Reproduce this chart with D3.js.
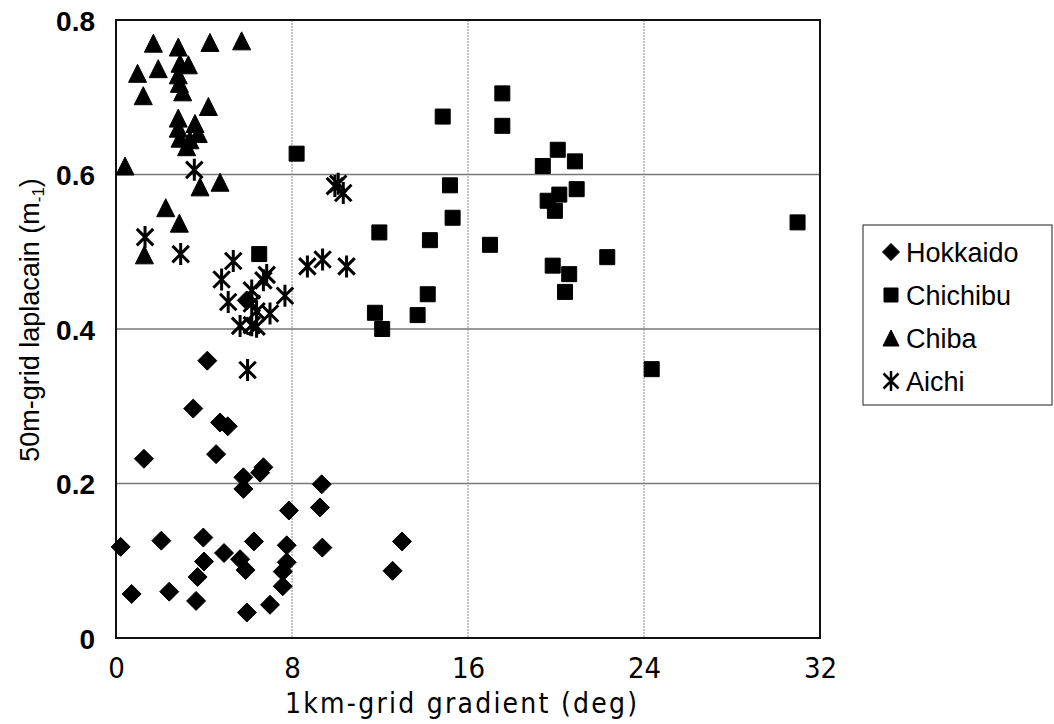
<!DOCTYPE html>
<html>
<head>
<meta charset="utf-8">
<script src="https://cdn.jsdelivr.net/npm/d3@7"></script>
<style>
  body { margin: 0; background: #fff; }
  svg { display: block; }
</style>
</head>
<body>
<div id="chart-area"></div>
<script>
// values: [gradient (deg), laplacian]
var hokkaido = [[3.51,0.297],[4.73,0.279],[5.08,0.274],[1.27,0.232],[4.55,0.238],[5.79,0.208],
  [6.7,0.221],[6.55,0.214],[5.79,0.193],[9.35,0.199],[7.86,0.165],[9.27,0.169],[0.21,0.118],
  [2.06,0.126],[3.97,0.130],[6.27,0.125],[7.76,0.120],[9.38,0.117],[4.91,0.110],[4.0,0.099],
  [5.64,0.102],[5.89,0.088],[7.76,0.098],[7.58,0.086],[3.71,0.079],[7.58,0.067],[0.71,0.057],
  [2.42,0.060],[3.64,0.048],[7.0,0.043],[5.95,0.033],[4.15,0.359],[13.0,0.125],[12.57,0.087],
  [5.94,0.437]];

var chichibu = [[17.56,0.705],[17.56,0.663],[14.85,0.675],[8.21,0.627],[20.08,0.632],[19.4,0.611],
  [20.86,0.617],[15.18,0.586],[20.94,0.581],[20.15,0.574],[19.62,0.566],[19.95,0.553],[15.3,0.544],
  [11.97,0.525],[14.27,0.515],[17.0,0.509],[22.33,0.493],[19.85,0.482],[20.6,0.471],[20.41,0.448],
  [14.17,0.445],[13.71,0.418],[11.77,0.421],[12.1,0.400],[6.51,0.497],[30.98,0.538],[24.35,0.348]];

var chiba = [[1.7,0.770],[2.83,0.765],[4.27,0.771],[5.71,0.773],[0.98,0.731],[1.92,0.737],
  [2.91,0.744],[3.29,0.742],[2.83,0.729],[2.88,0.718],[3.03,0.707],[1.24,0.702],[4.2,0.688],
  [2.83,0.673],[3.59,0.666],[2.83,0.660],[3.74,0.653],[2.91,0.647],[3.36,0.645],[3.21,0.636],
  [0.41,0.611],[3.82,0.584],[4.73,0.590],[2.26,0.557],[2.88,0.537],[1.29,0.496]];

var aichi = [[1.32,0.519],[2.94,0.497],[5.33,0.488],[4.8,0.464],[6.85,0.470],[6.7,0.463],
  [6.17,0.450],[7.68,0.443],[5.1,0.435],[6.17,0.433],[6.39,0.423],[7.0,0.420],[5.64,0.404],
  [6.17,0.405],[6.39,0.403],[5.98,0.347],[8.7,0.481],[9.39,0.490],[10.48,0.481],[3.56,0.606],
  [9.95,0.585],[10.1,0.588],[10.33,0.576]];

var seriesNames = ["Hokkaido", "Chichibu", "Chiba", "Aichi"];
var xTicks = [0, 8, 16, 24, 32];
var yTicks = [0, 0.2, 0.4, 0.6, 0.8];

var width = 1054, height = 724;
var plotLeft = 116, plotRight = 820, plotTop = 20, plotBottom = 638;

var svg = d3.select("#chart-area")
  .append("svg")
  .attr("width", width)
  .attr("height", height);

var x = d3.scaleLinear().domain([0, 32]).range([plotLeft, plotRight]);
var y = d3.scaleLinear().domain([0, 0.8]).range([plotBottom, plotTop]);

// marker shapes
function diamond(s) { return "M0," + (-s) + "L" + s + ",0L0," + s + "L" + (-s) + ",0Z"; }
function square(s) { return "M" + (-s) + "," + (-s) + "h" + (2 * s) + "v" + (2 * s) + "h" + (-2 * s) + "Z"; }
function triangle(s) { return "M0," + (-s) + "L" + s + "," + s + "L" + (-s) + "," + s + "Z"; }
function asterisk(s) {
  var a = s * 0.75;
  return "M0," + (-s) + "V" + s + "M" + (-a) + "," + (-a) + "L" + a + "," + a + "M" + (-a) + "," + a + "L" + a + "," + (-a);
}

// grid lines
svg.append("g")
  .selectAll("line")
  .data(yTicks.slice(1, 4))
  .enter()
  .append("line")
  .attr("x1", plotLeft).attr("x2", plotRight)
  .attr("y1", function(d) { return y(d); })
  .attr("y2", function(d) { return y(d); })
  .attr("stroke", "#777")
  .attr("stroke-width", 1.5);

svg.append("g")
  .selectAll("line")
  .data(xTicks.slice(1, 4))
  .enter()
  .append("line")
  .attr("y1", plotTop).attr("y2", plotBottom)
  .attr("x1", function(d) { return x(d); })
  .attr("x2", function(d) { return x(d); })
  .attr("stroke", "#888")
  .attr("stroke-width", 1)
  .attr("stroke-dasharray", "2,1");

// axes (labels only, the frame is drawn below)
var xAxis = svg.append("g")
  .attr("transform", "translate(0," + plotBottom + ")")
  .call(d3.axisBottom(x).tickValues(xTicks).tickSize(0).tickPadding(19).tickFormat(d3.format("d")));
xAxis.select(".domain").remove();
xAxis.selectAll("text")
  .attr("fill", "#000")
  .style("font-family", "'Liberation Sans Narrow', 'DejaVu Sans Condensed', sans-serif")
  .style("font-size", "29px");

var yAxis = svg.append("g")
  .attr("transform", "translate(" + plotLeft + ",0)")
  .call(d3.axisLeft(y).tickValues(yTicks).tickSize(0).tickPadding(21)
    .tickFormat(function(d) { return d === 0 ? "0" : d3.format(".1f")(d); }));
yAxis.select(".domain").remove();
yAxis.selectAll("text")
  .attr("fill", "#000")
  .attr("dy", "0.36em")
  .style("font-family", "'Liberation Sans', Arial, sans-serif")
  .style("font-weight", "bold")
  .style("font-size", "28px");

// plot frame
svg.append("rect")
  .attr("x", plotLeft).attr("y", plotTop)
  .attr("width", plotRight - plotLeft).attr("height", plotBottom - plotTop)
  .attr("fill", "none")
  .attr("stroke", "#111")
  .attr("stroke-width", 2);

// points
function drawSeries(data, shape, size, isLine) {
  svg.append("g")
    .selectAll("path")
    .data(data)
    .enter()
    .append("path")
    .attr("transform", function(d) { return "translate(" + x(d[0]) + "," + y(d[1]) + ")"; })
    .attr("d", shape(size))
    .attr("fill", isLine ? "none" : "#000")
    .attr("stroke", "#000")
    .attr("stroke-width", isLine ? 3 : 1)
    .attr("stroke-linejoin", "round");
}
drawSeries(hokkaido, diamond, 9.5, false);
drawSeries(chichibu, square, 7.5, false);
drawSeries(chiba, triangle, 9, false);
drawSeries(aichi, asterisk, 11, true);

// axis titles
svg.append("text")
  .attr("x", 461).attr("y", 713)
  .attr("text-anchor", "middle")
  .attr("textLength", 352)
  .attr("lengthAdjust", "spacing")
  .style("font-family", "'Liberation Sans Narrow', 'DejaVu Sans Condensed', sans-serif")
  .style("font-size", "28px")
  .text("1km-grid gradient (deg)");

var yTitle = svg.append("text")
  .attr("transform", "translate(39,320) rotate(-90)")
  .attr("text-anchor", "middle")
  .style("font-family", "'Liberation Sans', Arial, sans-serif")
  .style("font-size", "27px");
yTitle.append("tspan").text("50m-grid laplacain (m");
yTitle.append("tspan").attr("dy", 5).style("font-size", "17px").text("-1");
yTitle.append("tspan").attr("dy", -5).text(")");

// legend
var legend = svg.append("g");
legend.append("rect")
  .attr("x", 863).attr("y", 225)
  .attr("width", 189).attr("height", 180)
  .attr("fill", "#fff")
  .attr("stroke", "#444")
  .attr("stroke-width", 1.2);

var legendShapes = [[diamond, 8.5, false], [square, 7, false], [triangle, 8, false], [asterisk, 10, true]];
seriesNames.forEach(function(name, i) {
  var cy = 252 + i * 43;
  var m = legendShapes[i];
  legend.append("path")
    .attr("transform", "translate(891," + cy + ")")
    .attr("d", m[0](m[1]))
    .attr("fill", m[2] ? "none" : "#000")
    .attr("stroke", "#000")
    .attr("stroke-width", m[2] ? 2.5 : 1);
  legend.append("text")
    .attr("x", 906).attr("y", cy)
    .attr("dy", "0.36em")
    .style("font-family", "'Liberation Sans', Arial, sans-serif")
    .style("font-size", "27px")
    .text(name);
});
</script>
</body>
</html>
